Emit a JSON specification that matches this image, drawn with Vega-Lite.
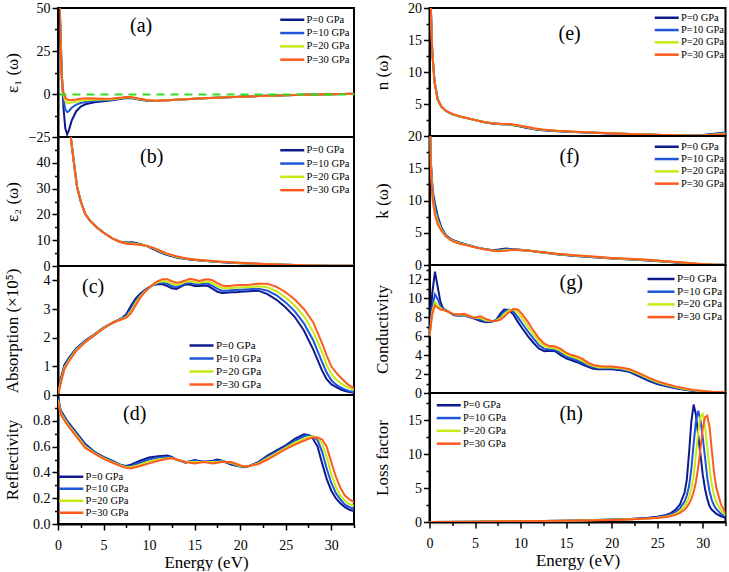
{
"$schema": "https://vega.github.io/schema/vega-lite/v6.json",
"background": "white",
"padding": {"left": 2, "top": 0, "right": 0, "bottom": 0},
"config": {
  "font": "Liberation Serif",
  "view": {"stroke": "black", "strokeWidth": 2},
  "title": {"font": "Liberation Serif", "fontSize": 20, "fontWeight": "normal", "color": "black", "anchor": "start", "frame": "group", "orient": "top", "offset": 0, "baseline": "middle", "align": "center"},
  "axis": {"domainColor": "black", "domainWidth": 2, "tickColor": "black", "tickWidth": 1.5, "tickSize": 6, "labelFont": "Liberation Serif", "labelFontSize": 14, "labelColor": "black", "titleFont": "Liberation Serif", "titleFontSize": 17, "titleFontWeight": "normal", "titleColor": "black", "grid": false, "labelFlush": false, "labelOverlap": false, "labelPadding": 2},
  "axisY": {"titleBaseline": "middle", "titleAlign": "center", "titleAngle": 270, "titleX": -46, "titleY": 64.5},
  "axisX": {"labelPadding": 8, "titlePadding": 2}
},
"datasets": {
"a": [
{"e":0,"p0":90,"p10":90,"p20":90,"p30":90},
{"e":0.2,"p0":50,"p10":48,"p20":46,"p30":44},
{"e":0.4,"p0":15,"p10":12,"p20":10,"p30":9},
{"e":0.6,"p0":-8,"p10":-3,"p20":-0.5,"p30":1},
{"e":0.8,"p0":-20,"p10":-9,"p20":-4,"p30":-2},
{"e":1,"p0":-23.5,"p10":-10.5,"p20":-5.2,"p30":-3.2},
{"e":1.2,"p0":-21,"p10":-10,"p20":-5.3,"p30":-3.6},
{"e":1.5,"p0":-15.5,"p10":-8,"p20":-5,"p30":-3.5},
{"e":2,"p0":-10,"p10":-6.2,"p20":-4.5,"p30":-3.2},
{"e":2.5,"p0":-7.3,"p10":-5.2,"p20":-4,"p30":-2.8},
{"e":3,"p0":-6,"p10":-4.6,"p20":-3.6,"p30":-2.5},
{"e":4,"p0":-4.8,"p10":-4,"p20":-3.3,"p30":-2.6},
{"e":5,"p0":-4.2,"p10":-3.7,"p20":-3.2,"p30":-2.7},
{"e":6,"p0":-3.6,"p10":-3.3,"p20":-3,"p30":-2.6},
{"e":7,"p0":-2.7,"p10":-2.5,"p20":-2.3,"p30":-2.1},
{"e":7.5,"p0":-2.3,"p10":-2.1,"p20":-1.9,"p30":-1.7},
{"e":8,"p0":-2.4,"p10":-2.2,"p20":-2,"p30":-1.8},
{"e":9,"p0":-3.3,"p10":-3.1,"p20":-3,"p30":-2.8},
{"e":10,"p0":-4,"p10":-3.9,"p20":-3.8,"p30":-3.7},
{"e":11,"p0":-3.9,"p10":-3.9,"p20":-3.9,"p30":-3.9},
{"e":12,"p0":-3.6,"p10":-3.6,"p20":-3.6,"p30":-3.6},
{"e":14,"p0":-3,"p10":-3,"p20":-3,"p30":-3},
{"e":16,"p0":-2.5,"p10":-2.5,"p20":-2.5,"p30":-2.5},
{"e":18,"p0":-2,"p10":-2,"p20":-2,"p30":-2},
{"e":20,"p0":-1.6,"p10":-1.6,"p20":-1.6,"p30":-1.6},
{"e":22,"p0":-1.2,"p10":-1.2,"p20":-1.2,"p30":-1.2},
{"e":24,"p0":-0.9,"p10":-0.9,"p20":-0.9,"p30":-0.9},
{"e":26,"p0":-0.6,"p10":-0.6,"p20":-0.6,"p30":-0.6},
{"e":28,"p0":-0.3,"p10":-0.3,"p20":-0.3,"p30":-0.3},
{"e":30,"p0":-0.1,"p10":-0.1,"p20":-0.1,"p30":-0.1},
{"e":32.5,"p0":0.2,"p10":0.2,"p20":0.2,"p30":0.2}
],
"b": [
{"e":0.6,"p0":90,"p10":90,"p20":90,"p30":90},
{"e":0.9,"p0":70,"p10":70,"p20":70,"p30":70},
{"e":1.1,"p0":60,"p10":60,"p20":60,"p30":60},
{"e":1.4,"p0":50,"p10":50,"p20":50,"p30":50},
{"e":1.75,"p0":40,"p10":40,"p20":40,"p30":40},
{"e":2.1,"p0":30.5,"p10":30.5,"p20":30.5,"p30":30.5},
{"e":2.5,"p0":25,"p10":25,"p20":25,"p30":25},
{"e":3,"p0":20,"p10":20,"p20":20,"p30":20.2},
{"e":3.5,"p0":17.6,"p10":17.6,"p20":17.6,"p30":17.7},
{"e":4.2,"p0":15.1,"p10":15.1,"p20":15.1,"p30":15.1},
{"e":5,"p0":13,"p10":13,"p20":13,"p30":12.9},
{"e":6,"p0":10.6,"p10":10.6,"p20":10.6,"p30":10.6},
{"e":6.8,"p0":9.5,"p10":9.45,"p20":9.4,"p30":9.3},
{"e":7.5,"p0":9.1,"p10":9,"p20":8.8,"p30":8.6},
{"e":8.2,"p0":9.2,"p10":8.95,"p20":8.7,"p30":8.4},
{"e":9,"p0":8.5,"p10":8.4,"p20":8.3,"p30":8.2},
{"e":9.8,"p0":7.6,"p10":7.7,"p20":7.75,"p30":7.8},
{"e":10.5,"p0":6.5,"p10":6.7,"p20":6.85,"p30":7},
{"e":11.2,"p0":5.3,"p10":5.5,"p20":5.7,"p30":5.9},
{"e":12,"p0":4.2,"p10":4.4,"p20":4.6,"p30":4.8},
{"e":13,"p0":3.3,"p10":3.45,"p20":3.6,"p30":3.8},
{"e":14,"p0":2.7,"p10":2.8,"p20":2.9,"p30":3},
{"e":15,"p0":2.3,"p10":2.4,"p20":2.48,"p30":2.55},
{"e":16,"p0":2,"p10":2.05,"p20":2.12,"p30":2.2},
{"e":17,"p0":1.7,"p10":1.75,"p20":1.82,"p30":1.9},
{"e":18,"p0":1.5,"p10":1.55,"p20":1.6,"p30":1.65},
{"e":20,"p0":1.1,"p10":1.15,"p20":1.2,"p30":1.25},
{"e":22,"p0":0.8,"p10":0.83,"p20":0.86,"p30":0.9},
{"e":24,"p0":0.55,"p10":0.57,"p20":0.6,"p30":0.62},
{"e":26,"p0":0.35,"p10":0.37,"p20":0.38,"p30":0.4},
{"e":28,"p0":0.2,"p10":0.21,"p20":0.22,"p30":0.24},
{"e":30,"p0":0.1,"p10":0.1,"p20":0.11,"p30":0.12},
{"e":32.5,"p0":0.05,"p10":0.05,"p20":0.05,"p30":0.06}
],
"c": [
{"e":0,"p0":0,"p10":0,"p20":0,"p30":0},
{"e":0.3,"p0":0.55,"p10":0.5,"p20":0.45,"p30":0.4},
{"e":0.7,"p0":1.05,"p10":1,"p20":0.95,"p30":0.9},
{"e":1.2,"p0":1.3,"p10":1.25,"p20":1.22,"p30":1.18},
{"e":2,"p0":1.62,"p10":1.6,"p20":1.57,"p30":1.54},
{"e":3,"p0":1.9,"p10":1.88,"p20":1.86,"p30":1.84},
{"e":4,"p0":2.12,"p10":2.1,"p20":2.1,"p30":2.08},
{"e":5,"p0":2.35,"p10":2.34,"p20":2.33,"p30":2.32},
{"e":6,"p0":2.52,"p10":2.52,"p20":2.52,"p30":2.52},
{"e":7,"p0":2.68,"p10":2.66,"p20":2.65,"p30":2.64},
{"e":7.5,"p0":2.82,"p10":2.76,"p20":2.72,"p30":2.7},
{"e":8,"p0":3.1,"p10":3,"p20":2.92,"p30":2.85},
{"e":8.5,"p0":3.35,"p10":3.27,"p20":3.2,"p30":3.12},
{"e":9,"p0":3.52,"p10":3.47,"p20":3.42,"p30":3.38},
{"e":9.5,"p0":3.65,"p10":3.62,"p20":3.6,"p30":3.58},
{"e":10,"p0":3.76,"p10":3.74,"p20":3.74,"p30":3.74},
{"e":10.5,"p0":3.84,"p10":3.85,"p20":3.86,"p30":3.88},
{"e":11,"p0":3.87,"p10":3.9,"p20":3.94,"p30":3.98},
{"e":11.5,"p0":3.86,"p10":3.92,"p20":3.97,"p30":4.04},
{"e":12,"p0":3.8,"p10":3.88,"p20":3.96,"p30":4.04},
{"e":12.5,"p0":3.72,"p10":3.8,"p20":3.88,"p30":3.97},
{"e":13,"p0":3.7,"p10":3.76,"p20":3.84,"p30":3.92},
{"e":13.5,"p0":3.78,"p10":3.82,"p20":3.88,"p30":3.94},
{"e":14,"p0":3.86,"p10":3.9,"p20":3.95,"p30":4},
{"e":14.5,"p0":3.85,"p10":3.91,"p20":3.97,"p30":4.05},
{"e":15,"p0":3.8,"p10":3.86,"p20":3.93,"p30":4.02},
{"e":15.5,"p0":3.8,"p10":3.86,"p20":3.92,"p30":3.98},
{"e":16,"p0":3.82,"p10":3.88,"p20":3.95,"p30":4.02},
{"e":16.5,"p0":3.8,"p10":3.88,"p20":3.96,"p30":4.04},
{"e":17,"p0":3.7,"p10":3.8,"p20":3.9,"p30":4},
{"e":17.5,"p0":3.6,"p10":3.7,"p20":3.8,"p30":3.9},
{"e":18,"p0":3.56,"p10":3.64,"p20":3.73,"p30":3.82},
{"e":18.5,"p0":3.57,"p10":3.64,"p20":3.72,"p30":3.8},
{"e":19,"p0":3.58,"p10":3.65,"p20":3.73,"p30":3.81},
{"e":19.5,"p0":3.58,"p10":3.66,"p20":3.74,"p30":3.83},
{"e":20,"p0":3.6,"p10":3.67,"p20":3.75,"p30":3.84},
{"e":21,"p0":3.62,"p10":3.69,"p20":3.77,"p30":3.85},
{"e":22,"p0":3.64,"p10":3.71,"p20":3.79,"p30":3.88},
{"e":23,"p0":3.52,"p10":3.64,"p20":3.76,"p30":3.88},
{"e":24,"p0":3.32,"p10":3.48,"p20":3.62,"p30":3.77},
{"e":25,"p0":3.05,"p10":3.23,"p20":3.4,"p30":3.58},
{"e":26,"p0":2.72,"p10":2.92,"p20":3.12,"p30":3.33},
{"e":27,"p0":2.25,"p10":2.5,"p20":2.75,"p30":3},
{"e":28,"p0":1.6,"p10":1.92,"p20":2.22,"p30":2.55},
{"e":29,"p0":0.85,"p10":1.15,"p20":1.5,"p30":1.8},
{"e":29.5,"p0":0.55,"p10":0.78,"p20":1.05,"p30":1.38},
{"e":30,"p0":0.38,"p10":0.52,"p20":0.75,"p30":1},
{"e":30.5,"p0":0.28,"p10":0.37,"p20":0.55,"p30":0.8},
{"e":31,"p0":0.2,"p10":0.27,"p20":0.42,"p30":0.62},
{"e":31.5,"p0":0.14,"p10":0.19,"p20":0.32,"p30":0.46},
{"e":32,"p0":0.1,"p10":0.13,"p20":0.24,"p30":0.33},
{"e":32.5,"p0":0.08,"p10":0.1,"p20":0.18,"p30":0.25}
],
"d": [
{"e":0,"p0":0.98,"p10":0.97,"p20":0.96,"p30":0.95},
{"e":0.3,"p0":0.88,"p10":0.87,"p20":0.86,"p30":0.85},
{"e":1,"p0":0.8,"p10":0.79,"p20":0.78,"p30":0.77},
{"e":2,"p0":0.71,"p10":0.7,"p20":0.69,"p30":0.68},
{"e":3,"p0":0.62,"p10":0.61,"p20":0.6,"p30":0.59},
{"e":4,"p0":0.56,"p10":0.555,"p20":0.55,"p30":0.545},
{"e":5,"p0":0.52,"p10":0.515,"p20":0.51,"p30":0.505},
{"e":6,"p0":0.49,"p10":0.485,"p20":0.48,"p30":0.475},
{"e":7,"p0":0.455,"p10":0.455,"p20":0.45,"p30":0.445},
{"e":7.5,"p0":0.45,"p10":0.445,"p20":0.44,"p30":0.435},
{"e":8,"p0":0.46,"p10":0.45,"p20":0.44,"p30":0.43},
{"e":9,"p0":0.49,"p10":0.475,"p20":0.46,"p30":0.45},
{"e":10,"p0":0.515,"p10":0.5,"p20":0.485,"p30":0.47},
{"e":11,"p0":0.525,"p10":0.515,"p20":0.5,"p30":0.49},
{"e":12,"p0":0.53,"p10":0.52,"p20":0.51,"p30":0.505},
{"e":12.5,"p0":0.52,"p10":0.515,"p20":0.51,"p30":0.51},
{"e":13,"p0":0.5,"p10":0.5,"p20":0.5,"p30":0.5},
{"e":14,"p0":0.475,"p10":0.48,"p20":0.48,"p30":0.48},
{"e":15,"p0":0.495,"p10":0.49,"p20":0.48,"p30":0.47},
{"e":16,"p0":0.48,"p10":0.485,"p20":0.48,"p30":0.48},
{"e":17,"p0":0.49,"p10":0.485,"p20":0.48,"p30":0.47},
{"e":17.5,"p0":0.5,"p10":0.49,"p20":0.48,"p30":0.475},
{"e":18,"p0":0.49,"p10":0.49,"p20":0.485,"p30":0.48},
{"e":19,"p0":0.46,"p10":0.47,"p20":0.475,"p30":0.48},
{"e":20,"p0":0.445,"p10":0.447,"p20":0.45,"p30":0.455},
{"e":20.5,"p0":0.44,"p10":0.443,"p20":0.445,"p30":0.445},
{"e":21,"p0":0.45,"p10":0.45,"p20":0.45,"p30":0.45},
{"e":22,"p0":0.48,"p10":0.475,"p20":0.47,"p30":0.465},
{"e":23,"p0":0.53,"p10":0.52,"p20":0.51,"p30":0.5},
{"e":24,"p0":0.57,"p10":0.56,"p20":0.55,"p30":0.54},
{"e":25,"p0":0.61,"p10":0.6,"p20":0.59,"p30":0.58},
{"e":26,"p0":0.66,"p10":0.645,"p20":0.63,"p30":0.615},
{"e":27,"p0":0.695,"p10":0.68,"p20":0.66,"p30":0.645},
{"e":27.5,"p0":0.69,"p10":0.69,"p20":0.675,"p30":0.66},
{"e":28,"p0":0.66,"p10":0.68,"p20":0.68,"p30":0.67},
{"e":28.5,"p0":0.6,"p10":0.65,"p20":0.67,"p30":0.67},
{"e":29,"p0":0.47,"p10":0.56,"p20":0.62,"p30":0.655},
{"e":29.5,"p0":0.35,"p10":0.43,"p20":0.52,"p30":0.6},
{"e":30,"p0":0.26,"p10":0.32,"p20":0.39,"p30":0.48},
{"e":30.5,"p0":0.2,"p10":0.24,"p20":0.29,"p30":0.37},
{"e":31,"p0":0.16,"p10":0.19,"p20":0.22,"p30":0.28},
{"e":31.5,"p0":0.13,"p10":0.15,"p20":0.18,"p30":0.22},
{"e":32,"p0":0.11,"p10":0.13,"p20":0.155,"p30":0.19},
{"e":32.5,"p0":0.1,"p10":0.12,"p20":0.14,"p30":0.17}
],
"e": [
{"e":0,"p0":30,"p10":30,"p20":30,"p30":30},
{"e":0.15,"p0":20,"p10":20,"p20":20,"p30":20},
{"e":0.3,"p0":13.3,"p10":13.2,"p20":13.1,"p30":13},
{"e":0.55,"p0":8.6,"p10":8.5,"p20":8.4,"p30":8.3},
{"e":0.9,"p0":5.7,"p10":5.7,"p20":5.7,"p30":5.7},
{"e":1.3,"p0":4.6,"p10":4.6,"p20":4.6,"p30":4.6},
{"e":1.8,"p0":3.9,"p10":3.9,"p20":3.9,"p30":3.95},
{"e":2.5,"p0":3.4,"p10":3.4,"p20":3.4,"p30":3.45},
{"e":3.3,"p0":3.05,"p10":3.05,"p20":3.05,"p30":3.1},
{"e":4.2,"p0":2.75,"p10":2.75,"p20":2.75,"p30":2.78},
{"e":5.1,"p0":2.45,"p10":2.45,"p20":2.45,"p30":2.48},
{"e":6,"p0":2.15,"p10":2.17,"p20":2.18,"p30":2.2},
{"e":6.9,"p0":1.95,"p10":1.97,"p20":1.98,"p30":2},
{"e":7.8,"p0":1.85,"p10":1.87,"p20":1.88,"p30":1.9},
{"e":8.8,"p0":1.8,"p10":1.82,"p20":1.84,"p30":1.86},
{"e":9.7,"p0":1.55,"p10":1.6,"p20":1.65,"p30":1.7},
{"e":10.6,"p0":1.3,"p10":1.35,"p20":1.4,"p30":1.45},
{"e":11.5,"p0":1.05,"p10":1.1,"p20":1.15,"p30":1.2},
{"e":12.4,"p0":0.9,"p10":0.94,"p20":0.98,"p30":1.02},
{"e":14,"p0":0.75,"p10":0.78,"p20":0.81,"p30":0.84},
{"e":16,"p0":0.62,"p10":0.64,"p20":0.66,"p30":0.68},
{"e":18,"p0":0.5,"p10":0.52,"p20":0.53,"p30":0.55},
{"e":20,"p0":0.4,"p10":0.41,"p20":0.42,"p30":0.43},
{"e":22,"p0":0.3,"p10":0.31,"p20":0.32,"p30":0.33},
{"e":24,"p0":0.22,"p10":0.22,"p20":0.23,"p30":0.24},
{"e":26,"p0":0.12,"p10":0.13,"p20":0.13,"p30":0.14},
{"e":28,"p0":0.08,"p10":0.08,"p20":0.08,"p30":0.08},
{"e":30,"p0":0.15,"p10":0.12,"p20":0.1,"p30":0.08},
{"e":31,"p0":0.3,"p10":0.25,"p20":0.2,"p30":0.15},
{"e":32.5,"p0":0.55,"p10":0.45,"p20":0.38,"p30":0.3}
],
"f": [
{"e":0,"p0":25,"p10":25,"p20":25,"p30":25},
{"e":0.15,"p0":16,"p10":15.7,"p20":15.4,"p30":15},
{"e":0.35,"p0":11.5,"p10":11,"p20":10.5,"p30":10},
{"e":0.6,"p0":9.5,"p10":8.9,"p20":8.3,"p30":7.8},
{"e":0.9,"p0":7.6,"p10":7.2,"p20":6.8,"p30":6.3},
{"e":1.3,"p0":5.8,"p10":5.6,"p20":5.45,"p30":5.3},
{"e":1.8,"p0":4.6,"p10":4.5,"p20":4.45,"p30":4.4},
{"e":2.5,"p0":3.9,"p10":3.85,"p20":3.78,"p30":3.7},
{"e":3.3,"p0":3.5,"p10":3.45,"p20":3.38,"p30":3.3},
{"e":4.2,"p0":3.1,"p10":3.08,"p20":3.04,"p30":3},
{"e":5.1,"p0":2.75,"p10":2.73,"p20":2.71,"p30":2.7},
{"e":6,"p0":2.5,"p10":2.48,"p20":2.46,"p30":2.45},
{"e":6.9,"p0":2.3,"p10":2.28,"p20":2.26,"p30":2.25},
{"e":7.6,"p0":2.4,"p10":2.3,"p20":2.22,"p30":2.15},
{"e":8.4,"p0":2.55,"p10":2.45,"p20":2.32,"p30":2.2},
{"e":9.2,"p0":2.45,"p10":2.42,"p20":2.38,"p30":2.35},
{"e":10,"p0":2.35,"p10":2.33,"p20":2.32,"p30":2.3},
{"e":11,"p0":2.2,"p10":2.2,"p20":2.2,"p30":2.2},
{"e":12,"p0":2,"p10":2.02,"p20":2.03,"p30":2.05},
{"e":14,"p0":1.65,"p10":1.68,"p20":1.71,"p30":1.75},
{"e":16,"p0":1.4,"p10":1.43,"p20":1.46,"p30":1.5},
{"e":18,"p0":1.2,"p10":1.23,"p20":1.26,"p30":1.3},
{"e":20,"p0":1,"p10":1.03,"p20":1.06,"p30":1.1},
{"e":22,"p0":0.85,"p10":0.88,"p20":0.91,"p30":0.95},
{"e":24,"p0":0.7,"p10":0.73,"p20":0.76,"p30":0.8},
{"e":26,"p0":0.5,"p10":0.53,"p20":0.56,"p30":0.6},
{"e":28,"p0":0.28,"p10":0.31,"p20":0.34,"p30":0.38},
{"e":29,"p0":0.18,"p10":0.2,"p20":0.22,"p30":0.25},
{"e":30,"p0":0.1,"p10":0.12,"p20":0.13,"p30":0.15},
{"e":31,"p0":0.05,"p10":0.06,"p20":0.07,"p30":0.08},
{"e":32.5,"p0":0.02,"p10":0.02,"p20":0.03,"p30":0.03}
],
"g": [
{"e":0,"p0":6,"p10":6,"p20":6,"p30":6},
{"e":0.3,"p0":10.5,"p10":9,"p20":8.6,"p30":8.3},
{"e":0.6,"p0":12.8,"p10":10.4,"p20":9.6,"p30":9.25},
{"e":0.9,"p0":11.2,"p10":9.9,"p20":9.3,"p30":9},
{"e":1.2,"p0":9.6,"p10":9.2,"p20":8.95,"p30":8.8},
{"e":1.5,"p0":8.9,"p10":8.85,"p20":8.8,"p30":8.75},
{"e":2,"p0":8.6,"p10":8.6,"p20":8.6,"p30":8.6},
{"e":2.7,"p0":8.2,"p10":8.25,"p20":8.3,"p30":8.3},
{"e":3.4,"p0":8.15,"p10":8.2,"p20":8.25,"p30":8.3},
{"e":3.8,"p0":8.2,"p10":8.25,"p20":8.3,"p30":8.35},
{"e":4.2,"p0":8.05,"p10":8.1,"p20":8.15,"p30":8.2},
{"e":4.9,"p0":7.85,"p10":7.9,"p20":7.95,"p30":7.95},
{"e":5.6,"p0":7.6,"p10":7.75,"p20":7.9,"p30":8.1},
{"e":6.2,"p0":7.45,"p10":7.55,"p20":7.65,"p30":7.8},
{"e":6.8,"p0":7.5,"p10":7.55,"p20":7.6,"p30":7.6},
{"e":7.3,"p0":7.7,"p10":7.65,"p20":7.65,"p30":7.6},
{"e":7.8,"p0":8.4,"p10":8.1,"p20":7.9,"p30":7.75},
{"e":8.2,"p0":8.8,"p10":8.6,"p20":8.3,"p30":8.05},
{"e":8.7,"p0":8.75,"p10":8.8,"p20":8.7,"p30":8.5},
{"e":9.2,"p0":8.3,"p10":8.6,"p20":8.8,"p30":8.85},
{"e":9.7,"p0":7.5,"p10":8,"p20":8.5,"p30":8.8},
{"e":10.2,"p0":6.8,"p10":7.3,"p20":7.85,"p30":8.3},
{"e":10.8,"p0":6,"p10":6.5,"p20":7,"p30":7.5},
{"e":11.4,"p0":5.3,"p10":5.75,"p20":6.2,"p30":6.6},
{"e":12,"p0":4.7,"p10":5.05,"p20":5.45,"p30":5.8},
{"e":12.6,"p0":4.4,"p10":4.65,"p20":4.95,"p30":5.2},
{"e":13.2,"p0":4.45,"p10":4.6,"p20":4.8,"p30":4.95},
{"e":13.8,"p0":4.4,"p10":4.55,"p20":4.7,"p30":4.9},
{"e":14.4,"p0":4,"p10":4.25,"p20":4.45,"p30":4.65},
{"e":15,"p0":3.65,"p10":3.85,"p20":4.05,"p30":4.25},
{"e":15.6,"p0":3.45,"p10":3.65,"p20":3.85,"p30":4},
{"e":16.2,"p0":3.25,"p10":3.45,"p20":3.65,"p30":3.85},
{"e":16.8,"p0":3,"p10":3.2,"p20":3.4,"p30":3.6},
{"e":17.4,"p0":2.75,"p10":2.9,"p20":3.05,"p30":3.2},
{"e":18,"p0":2.55,"p10":2.7,"p20":2.85,"p30":2.95},
{"e":18.6,"p0":2.5,"p10":2.6,"p20":2.7,"p30":2.85},
{"e":19.2,"p0":2.5,"p10":2.6,"p20":2.7,"p30":2.8},
{"e":20,"p0":2.5,"p10":2.6,"p20":2.7,"p30":2.8},
{"e":21,"p0":2.4,"p10":2.5,"p20":2.6,"p30":2.7},
{"e":22,"p0":2.2,"p10":2.3,"p20":2.4,"p30":2.5},
{"e":23,"p0":1.75,"p10":1.9,"p20":2,"p30":2.1},
{"e":24,"p0":1.3,"p10":1.45,"p20":1.55,"p30":1.65},
{"e":25,"p0":0.95,"p10":1.05,"p20":1.15,"p30":1.25},
{"e":26,"p0":0.7,"p10":0.78,"p20":0.86,"p30":0.95},
{"e":27,"p0":0.5,"p10":0.56,"p20":0.62,"p30":0.7},
{"e":28,"p0":0.33,"p10":0.38,"p20":0.43,"p30":0.5},
{"e":29,"p0":0.2,"p10":0.24,"p20":0.28,"p30":0.33},
{"e":30,"p0":0.12,"p10":0.15,"p20":0.18,"p30":0.22},
{"e":31,"p0":0.07,"p10":0.09,"p20":0.11,"p30":0.14},
{"e":32.5,"p0":0.04,"p10":0.05,"p20":0.06,"p30":0.08}
],
"h": [
{"e":0,"p0":0,"p10":0,"p20":0,"p30":0},
{"e":5,"p0":0.05,"p10":0.05,"p20":0.05,"p30":0.05},
{"e":10,"p0":0.12,"p10":0.12,"p20":0.12,"p30":0.12},
{"e":15,"p0":0.2,"p10":0.2,"p20":0.2,"p30":0.2},
{"e":20,"p0":0.35,"p10":0.33,"p20":0.32,"p30":0.3},
{"e":22,"p0":0.45,"p10":0.42,"p20":0.4,"p30":0.38},
{"e":24,"p0":0.62,"p10":0.57,"p20":0.53,"p30":0.5},
{"e":25,"p0":0.78,"p10":0.7,"p20":0.64,"p30":0.6},
{"e":26,"p0":1.05,"p10":0.92,"p20":0.82,"p30":0.75},
{"e":26.5,"p0":1.3,"p10":1.1,"p20":0.97,"p30":0.88},
{"e":27,"p0":1.8,"p10":1.45,"p20":1.2,"p30":1.05},
{"e":27.5,"p0":2.6,"p10":2,"p20":1.6,"p30":1.35},
{"e":28,"p0":4.3,"p10":3,"p20":2.3,"p30":1.8},
{"e":28.25,"p0":6.2,"p10":3.9,"p20":2.9,"p30":2.2},
{"e":28.5,"p0":10.2,"p10":5.3,"p20":3.7,"p30":2.7},
{"e":28.75,"p0":14.8,"p10":7.8,"p20":4.9,"p30":3.4},
{"e":29,"p0":17.3,"p10":11.5,"p20":6.8,"p30":4.4},
{"e":29.25,"p0":15.8,"p10":14.8,"p20":9.8,"p30":5.9},
{"e":29.5,"p0":12.8,"p10":16.4,"p20":13.2,"p30":8},
{"e":29.75,"p0":10,"p10":15,"p20":15.5,"p30":10.8},
{"e":30,"p0":7,"p10":12.5,"p20":15.9,"p30":13.8},
{"e":30.25,"p0":4.9,"p10":9.5,"p20":14,"p30":15.4},
{"e":30.5,"p0":3.4,"p10":6.5,"p20":11,"p30":15.65},
{"e":30.75,"p0":2.3,"p10":4.5,"p20":7.8,"p30":14},
{"e":31,"p0":1.8,"p10":3.2,"p20":5.5,"p30":10.5},
{"e":31.25,"p0":1.5,"p10":2.4,"p20":3.9,"p30":7.2},
{"e":31.5,"p0":1.2,"p10":1.9,"p20":2.9,"p30":5},
{"e":32,"p0":0.85,"p10":1.2,"p20":1.7,"p30":2.6},
{"e":32.5,"p0":0.6,"p10":0.8,"p20":1,"p30":1.3}
]
},
"spacing": 15.5,
"resolve": {"scale": {"x": "independent", "y": "independent", "color": "independent"}, "legend": {"color": "independent"}, "axis": {"x": "independent", "y": "independent"}},
"hconcat": [
{
"vconcat": [
{"width": 296, "height": 129, "data": {"name": "a"}, "transform": [{"fold": ["p0","p10","p20","p30"]}],
 "title": {"text": "(a)", "dx": 72, "dy": 39},
 "mark": {"type": "line", "clip": true, "strokeWidth": 2},
 "encoding": {
  "x": {"field": "e", "type": "quantitative", "scale": {"domain": [0, 32.5], "nice": false, "zero": false}, "axis": null},
  "y": {"field": "value", "type": "quantitative", "scale": {"domain": [-25, 50], "nice": false, "zero": false}, "axis": {"title": "ε₁ (ω)", "format": "d", "zindex": 1, "grid": true, "gridColor": {"condition": {"test": "datum.value === 0", "value": "#33dd22"}, "value": "rgba(0,0,0,0)"}, "gridDash": [8, 6], "gridWidth": 2, "labelOverlap": false, "values": [-25,-12.5,0,12.5,25,37.5,50], "labelExpr": "datum.value % 25 === 0 ? datum.label : ''", "tickDash": {"condition": {"test": "datum.value % 25 === 0", "value": [6, 0]}, "value": [3.5, 10]}}},
  "color": {"field": "key", "type": "nominal", "scale": {"domain": ["p0","p10","p20","p30"], "range": ["#0e1a8c","#1f55d8","#c6ea12","#ff5a1e"]}, "legend": {"orient": "none", "legendX": 229, "legendY": 6.5, "title": null, "padding": 0, "labelExpr": "'P=' + substring(datum.label, 1) + ' GPa'", "symbolType": "M-4,0H4", "symbolSize": 36, "symbolStrokeWidth": 2.5, "labelOffset": 9, "rowPadding": 2.3, "labelFontSize": 10.5, "labelFont": "Liberation Serif", "labelColor": "black"}}
 }},
{"width": 296, "height": 129, "data": {"name": "b"}, "transform": [{"fold": ["p0","p10","p20","p30"]}],
 "title": {"text": "(b)", "dx": 82, "dy": 34},
 "mark": {"type": "line", "clip": true, "strokeWidth": 2},
 "encoding": {
  "x": {"field": "e", "type": "quantitative", "scale": {"domain": [0, 32.5], "nice": false, "zero": false}, "axis": null},
  "y": {"field": "value", "type": "quantitative", "scale": {"domain": [0, 50], "nice": false, "zero": false}, "axis": {"title": "ε₂ (ω)", "format": "d", "labelOverlap": false, "values": [0,5,10,15,20,25,30,35,40,45], "labelExpr": "datum.value % 10 === 0 ? datum.label : ''", "tickDash": {"condition": {"test": "datum.value % 10 === 0", "value": [6, 0]}, "value": [3.5, 10]}}},
  "color": {"field": "key", "type": "nominal", "scale": {"domain": ["p0","p10","p20","p30"], "range": ["#0e1a8c","#1f55d8","#c6ea12","#ff5a1e"]}, "legend": {"orient": "none", "legendX": 229, "legendY": 8, "title": null, "padding": 0, "labelExpr": "'P=' + substring(datum.label, 1) + ' GPa'", "symbolType": "M-4,0H4", "symbolSize": 36, "symbolStrokeWidth": 2.5, "labelOffset": 9, "rowPadding": 2.3, "labelFontSize": 10.5, "labelFont": "Liberation Serif", "labelColor": "black"}}
 }},
{"width": 296, "height": 129, "data": {"name": "c"}, "transform": [{"fold": ["p0","p10","p20","p30"]}],
 "title": {"text": "(c)", "dx": 24, "dy": 35},
 "mark": {"type": "line", "clip": true, "strokeWidth": 2},
 "encoding": {
  "x": {"field": "e", "type": "quantitative", "scale": {"domain": [0, 32.5], "nice": false, "zero": false}, "axis": null},
  "y": {"field": "value", "type": "quantitative", "scale": {"domain": [0, 4.5], "nice": false, "zero": false}, "axis": {"title": "Absorption (×10⁵)", "format": "d", "labelOverlap": false, "values": [0,0.5,1,1.5,2,2.5,3,3.5,4], "labelExpr": "datum.value % 1 === 0 ? datum.label : ''", "tickDash": {"condition": {"test": "datum.value % 1 === 0", "value": [6, 0]}, "value": [3.5, 10]}}},
  "color": {"field": "key", "type": "nominal", "scale": {"domain": ["p0","p10","p20","p30"], "range": ["#0e1a8c","#1f55d8","#c6ea12","#ff5a1e"]}, "legend": {"orient": "none", "legendX": 138, "legendY": 74, "title": null, "padding": 0, "labelExpr": "'P=' + substring(datum.label, 1) + ' GPa'", "symbolType": "M-4,0H4", "symbolSize": 36, "symbolStrokeWidth": 2.5, "labelOffset": 9, "rowPadding": 1, "labelFontSize": 11, "labelFont": "Liberation Serif", "labelColor": "black"}}
 }},
{"width": 296, "height": 129, "data": {"name": "d"}, "transform": [{"fold": ["p0","p10","p20","p30"]}],
 "title": {"text": "(d)", "dx": 65, "dy": 33},
 "mark": {"type": "line", "clip": true, "strokeWidth": 2},
 "encoding": {
  "x": {"field": "e", "type": "quantitative", "scale": {"domain": [0, 32.5], "nice": false, "zero": false}, "axis": {"title": "Energy (eV)", "format": "d", "labelOverlap": false, "values": [0,2.5,5,7.5,10,12.5,15,17.5,20,22.5,25,27.5,30,32.5], "labelExpr": "datum.value % 5 === 0 ? datum.label : ''", "tickDash": {"condition": {"test": "datum.value % 5 === 0", "value": [6, 0]}, "value": [3.5, 10]}}},
  "y": {"field": "value", "type": "quantitative", "scale": {"domain": [0, 1], "nice": false, "zero": false}, "axis": {"title": "Reflectivity", "labelOverlap": false, "format": ".1f", "values": [0,0.1,0.2,0.3,0.4,0.5,0.6,0.7,0.8,0.9], "labelExpr": "round(datum.value * 10) % 2 === 0 ? datum.label : ''", "tickDash": {"condition": {"test": "round(datum.value * 10) % 2 === 0", "value": [6, 0]}, "value": [3.5, 10]}}},
  "color": {"field": "key", "type": "nominal", "scale": {"domain": ["p0","p10","p20","p30"], "range": ["#0e1a8c","#1f55d8","#c6ea12","#ff5a1e"]}, "legend": {"orient": "none", "legendX": 8, "legendY": 76.5, "title": null, "padding": 0, "labelExpr": "'P=' + substring(datum.label, 1) + ' GPa'", "symbolType": "M-4,0H4", "symbolSize": 36, "symbolStrokeWidth": 2.5, "labelOffset": 9, "rowPadding": 1, "labelFontSize": 10.5, "labelFont": "Liberation Serif", "labelColor": "black"}}
 }}
],
"spacing": 0,
"bounds": "flush",
"resolve": {"scale": {"x": "independent", "y": "independent", "color": "independent"}, "legend": {"color": "independent"}, "axis": {"x": "independent", "y": "independent"}}
},
{
"vconcat": [
{"width": 296, "height": 128, "data": {"name": "e"}, "transform": [{"fold": ["p0","p10","p20","p30"]}],
 "title": {"text": "(e)", "dx": 129, "dy": 46.5},
 "mark": {"type": "line", "clip": true, "strokeWidth": 2},
 "encoding": {
  "x": {"field": "e", "type": "quantitative", "scale": {"domain": [0, 32.5], "nice": false, "zero": false}, "axis": null},
  "y": {"field": "value", "type": "quantitative", "scale": {"domain": [0, 20], "nice": false, "zero": false}, "axis": {"title": "n (ω)", "format": "d", "titleX": -47.5, "titleY": 64, "labelOverlap": false, "values": [2.5,5,7.5,10,12.5,15,17.5,20], "labelExpr": "datum.value % 5 === 0 ? datum.label : ''", "tickDash": {"condition": {"test": "datum.value % 5 === 0", "value": [6, 0]}, "value": [3.5, 10]}}},
  "color": {"field": "key", "type": "nominal", "scale": {"domain": ["p0","p10","p20","p30"], "range": ["#0e1a8c","#1f55d8","#c6ea12","#ff5a1e"]}, "legend": {"orient": "none", "legendX": 232, "legendY": 4.5, "title": null, "padding": 0, "labelExpr": "'P=' + substring(datum.label, 1) + ' GPa'", "symbolType": "M-4,0H4", "symbolSize": 36, "symbolStrokeWidth": 2.5, "labelOffset": 9, "rowPadding": 1.3, "labelFontSize": 10.5, "labelFont": "Liberation Serif", "labelColor": "black"}}
 }},
{"width": 296, "height": 129, "data": {"name": "f"}, "transform": [{"fold": ["p0","p10","p20","p30"]}],
 "title": {"text": "(f)", "dx": 130, "dy": 42},
 "mark": {"type": "line", "clip": true, "strokeWidth": 2},
 "encoding": {
  "x": {"field": "e", "type": "quantitative", "scale": {"domain": [0, 32.5], "nice": false, "zero": false}, "axis": null},
  "y": {"field": "value", "type": "quantitative", "scale": {"domain": [0, 20], "nice": false, "zero": false}, "axis": {"title": "k (ω)", "format": "d", "titleX": -47.5, "labelOverlap": false, "values": [0,2.5,5,7.5,10,12.5,15,17.5,20], "labelExpr": "datum.value % 5 === 0 ? datum.label : ''", "tickDash": {"condition": {"test": "datum.value % 5 === 0", "value": [6, 0]}, "value": [3.5, 10]}}},
  "color": {"field": "key", "type": "nominal", "scale": {"domain": ["p0","p10","p20","p30"], "range": ["#0e1a8c","#1f55d8","#c6ea12","#ff5a1e"]}, "legend": {"orient": "none", "legendX": 232, "legendY": 5.5, "title": null, "padding": 0, "labelExpr": "'P=' + substring(datum.label, 1) + ' GPa'", "symbolType": "M-4,0H4", "symbolSize": 36, "symbolStrokeWidth": 2.5, "labelOffset": 9, "rowPadding": 1.3, "labelFontSize": 10.5, "labelFont": "Liberation Serif", "labelColor": "black"}}
 }},
{"width": 296, "height": 128, "data": {"name": "g"}, "transform": [{"fold": ["p0","p10","p20","p30"]}],
 "title": {"text": "(g)", "dx": 130, "dy": 34.3},
 "mark": {"type": "line", "clip": true, "strokeWidth": 2},
 "encoding": {
  "x": {"field": "e", "type": "quantitative", "scale": {"domain": [0, 32.5], "nice": false, "zero": false}, "axis": null},
  "y": {"field": "value", "type": "quantitative", "scale": {"domain": [0, 13.5], "nice": false, "zero": false}, "axis": {"title": "Conductivity", "format": "d", "titleX": -47.5, "titleY": 64, "labelOverlap": false, "values": [0,1,2,3,4,5,6,7,8,9,10,11,12,13], "labelExpr": "datum.value % 2 === 0 ? datum.label : ''", "tickDash": {"condition": {"test": "datum.value % 2 === 0", "value": [6, 0]}, "value": [3.5, 10]}}},
  "color": {"field": "key", "type": "nominal", "scale": {"domain": ["p0","p10","p20","p30"], "range": ["#0e1a8c","#1f55d8","#c6ea12","#ff5a1e"]}, "legend": {"orient": "none", "legendX": 226, "legendY": 8.5, "title": null, "padding": 0, "labelExpr": "'P=' + substring(datum.label, 1) + ' GPa'", "symbolType": "M-4.5,0H4.5", "symbolSize": 36, "symbolStrokeWidth": 2.5, "labelOffset": 10.5, "rowPadding": 0.7, "labelFontSize": 11, "labelFont": "Liberation Serif", "labelColor": "black"}}
 }},
{"width": 296, "height": 129, "data": {"name": "h"}, "transform": [{"fold": ["p0","p10","p20","p30"]}],
 "title": {"text": "(h)", "dx": 130, "dy": 35.3},
 "mark": {"type": "line", "clip": true, "strokeWidth": 2},
 "encoding": {
  "x": {"field": "e", "type": "quantitative", "scale": {"domain": [0, 32.5], "nice": false, "zero": false}, "axis": {"title": "Energy (eV)", "format": "d", "labelOverlap": false, "values": [0,2.5,5,7.5,10,12.5,15,17.5,20,22.5,25,27.5,30,32.5], "labelExpr": "datum.value % 5 === 0 ? datum.label : ''", "tickDash": {"condition": {"test": "datum.value % 5 === 0", "value": [6, 0]}, "value": [3.5, 10]}}},
  "y": {"field": "value", "type": "quantitative", "scale": {"domain": [0, 19], "nice": false, "zero": false}, "axis": {"title": "Loss factor", "format": "d", "titleX": -47.5, "labelOverlap": false, "values": [0,2.5,5,7.5,10,12.5,15,17.5], "labelExpr": "datum.value % 5 === 0 ? datum.label : ''", "tickDash": {"condition": {"test": "datum.value % 5 === 0", "value": [6, 0]}, "value": [3.5, 10]}}},
  "color": {"field": "key", "type": "nominal", "scale": {"domain": ["p0","p10","p20","p30"], "range": ["#0e1a8c","#1f55d8","#c6ea12","#ff5a1e"]}, "legend": {"orient": "none", "legendX": 14, "legendY": 7, "title": null, "padding": 0, "labelExpr": "'P=' + substring(datum.label, 1) + ' GPa'", "symbolType": "M-4,0H4", "symbolSize": 36, "symbolStrokeWidth": 2.5, "labelOffset": 9, "rowPadding": 1.8, "labelFontSize": 10.5, "labelFont": "Liberation Serif", "labelColor": "black"}}
 }}
],
"spacing": 0,
"bounds": "flush",
"resolve": {"scale": {"x": "independent", "y": "independent", "color": "independent"}, "legend": {"color": "independent"}, "axis": {"x": "independent", "y": "independent"}}
}
]
}
